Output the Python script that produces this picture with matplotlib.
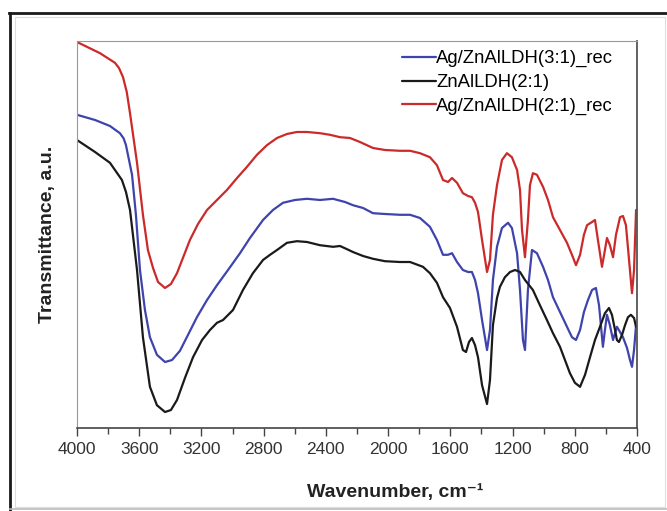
import numpy as np
import matplotlib.pyplot as plt
from matplotlib.lines import Line2D
from matplotlib.patches import Rectangle

plt.rcParams['font.family'] = ['Liberation Sans', 'DejaVu Sans']

# wavenumber (cm-1) and transmittance (a.u.)
wn_red = [4000, 3852, 3756, 3730, 3704, 3680, 3659, 3614, 3576, 3544, 3511, 3479, 3434, 3396,
          3357, 3319, 3274, 3222, 3164, 3100, 3036, 2971, 2907, 2843, 2779, 2714, 2650, 2586,
          2521, 2438, 2374, 2309, 2245, 2181, 2097, 2020, 1924, 1859, 1795, 1731, 1686, 1647,
          1615, 1589, 1557, 1519, 1486, 1461, 1441, 1422, 1396, 1364, 1345, 1326, 1300, 1268,
          1236, 1204, 1171, 1152, 1139, 1120, 1101, 1088, 1069, 1043, 1004, 972, 940, 895, 850,
          818, 792, 766, 741, 721, 689, 670, 651, 625, 606, 593, 574, 554, 535, 509, 490, 471,
          451, 432, 419, 406]
t_red = [97.0, 94.2, 91.8, 90.5, 88.2, 84.5, 79.2, 66.8, 53.8, 45.0, 40.5, 37.0, 35.5, 36.5,
         39.2, 43.0, 47.5, 51.5, 55.0, 57.5, 60.0, 63.0, 65.8, 68.8, 71.2, 73.0, 74.0, 74.5,
         74.5, 74.2, 73.8, 73.2, 73.0, 72.0, 70.5, 70.0, 69.8, 69.8, 69.2, 68.2, 66.2, 62.5,
         62.0, 63.0, 61.8, 59.2, 58.5, 58.2, 56.8, 54.5, 47.5, 39.5, 42.5, 53.8, 61.2, 67.5,
         69.2, 68.2, 65.0, 60.0, 50.0, 43.2, 52.5, 61.2, 64.2, 63.8, 60.8, 57.5, 53.2, 50.0, 46.8,
         43.8, 41.2, 43.8, 48.8, 51.2, 52.0, 52.5, 47.5, 40.8, 45.0, 48.0, 46.2, 43.2, 48.8, 53.2,
         53.5, 51.2, 42.5, 34.2, 40.0, 55.0]

wn_blue = [4000, 3884, 3788, 3724, 3700, 3685, 3646, 3621, 3595, 3563, 3531, 3486, 3434, 3389,
           3338, 3286, 3229, 3164, 3100, 3029, 2952, 2888, 2804, 2740, 2676, 2599, 2521, 2438,
           2354, 2277, 2226, 2161, 2097, 2020, 1924, 1859, 1795, 1731, 1686, 1647, 1615, 1589,
           1557, 1519, 1486, 1461, 1441, 1422, 1396, 1364, 1345, 1326, 1300, 1268, 1229, 1204,
           1171, 1152, 1133, 1120, 1101, 1075, 1043, 1004, 972, 940, 895, 850, 818, 792, 766, 741,
           715, 689, 664, 644, 619, 606, 593, 574, 554, 529, 509, 490, 464, 445, 432, 419, 406]
t_blue = [78.8, 77.5, 76.0, 74.2, 72.9, 71.2, 63.8, 53.8, 40.0, 30.0, 23.2, 18.8, 17.0, 17.5,
          19.8, 23.8, 28.2, 32.5, 36.2, 40.0, 44.2, 48.0, 52.5, 55.0, 56.8, 57.5, 57.8, 57.5,
          57.8, 57.0, 56.2, 55.5, 54.2, 54.0, 53.8, 53.8, 53.0, 50.8, 47.5, 43.8, 43.8, 44.2,
          42.0, 40.0, 39.5, 39.5, 37.5, 34.2, 27.5, 20.0, 25.0, 37.5, 45.8, 50.5, 51.8, 50.5,
          44.2, 35.0, 22.5, 20.0, 35.0, 45.0, 44.2, 40.8, 37.5, 33.2, 29.5, 25.8, 23.2, 22.5,
          25.0, 29.5, 32.5, 35.0, 35.5, 31.2, 20.8, 25.0, 28.8, 26.2, 22.5, 25.8, 24.5, 23.2,
          20.5, 17.5, 15.8, 20.0, 26.2]

wn_black = [4000, 3884, 3788, 3711, 3685, 3659, 3614, 3576, 3531, 3486, 3434, 3396, 3357, 3306,
            3254, 3196, 3145, 3100, 3061, 2997, 2933, 2869, 2804, 2759, 2714, 2650, 2586, 2521,
            2438, 2354, 2309, 2264, 2226, 2161, 2097, 2020, 1924, 1859, 1776, 1731, 1686, 1647,
            1602, 1557, 1519, 1499, 1480, 1461, 1441, 1422, 1396, 1364, 1345, 1326, 1300, 1281,
            1249, 1216, 1184, 1152, 1120, 1069, 1024, 979, 940, 895, 863, 831, 799, 766, 734, 702,
            670, 638, 606, 580, 561, 541, 529, 516, 496, 477, 458, 439, 419, 406]
t_black = [72.5, 69.5, 66.8, 62.5, 59.5, 55.0, 40.0, 23.2, 10.8, 6.2, 4.5, 5.0, 7.5, 13.0,
           18.2, 22.5, 25.0, 26.8, 27.5, 30.0, 35.0, 39.2, 42.5, 43.8, 45.0, 46.8, 47.2, 47.0,
           46.2, 45.8, 46.0, 45.2, 44.5, 43.5, 42.8, 42.2, 42.0, 42.0, 40.8, 39.2, 36.8, 33.2,
           30.5, 25.8, 20.0, 19.5, 22.0, 23.0, 21.2, 18.2, 11.2, 6.5, 12.5, 26.2, 33.0, 35.8,
           38.2, 39.5, 40.0, 39.5, 37.5, 35.0, 31.2, 27.5, 24.2, 20.8, 17.5, 14.2, 11.8, 10.8,
           13.8, 18.2, 22.5, 25.8, 29.2, 30.5, 28.8, 25.0, 22.5, 22.0, 23.8, 26.2, 28.2, 28.8,
           28.0, 25.8]

labels = ['Ag/ZnAlLDH(3:1)_rec', 'ZnAlLDH(2:1)', 'Ag/ZnAlLDH(2:1)_rec']
colors = ['#3f44ad', '#1a1a1a', '#cc2a2a']

fig = plt.figure(figsize=(6.67, 5.11), dpi=100)
ax = fig.add_axes([0.1154, 0.1624, 0.8396, 0.7574])

kw = dict(lw=1.6, solid_joinstyle='round', solid_capstyle='round')
ax.plot(wn_blue, t_blue, color=colors[0], label=labels[0], **kw)
ax.plot(wn_black, t_black, color=colors[1], label=labels[1], **kw)
ax.plot(wn_red, t_red, color=colors[2], label=labels[2], **kw)

ax.set_xlim(4000, 400)
ax.set_ylim(0.5, 97.25)
ax.set_xticks(np.arange(4000, 399, -400))
ax.set_xticks(np.arange(3800, 400, -400), minor=True)
ax.set_yticks([])
ax.tick_params(axis='x', which='major', length=6, width=1, color='#444',
               labelsize=12.5, labelcolor='#333', pad=4)
ax.tick_params(axis='x', which='minor', length=4, width=1, color='#444')

for s in ['left', 'top']:
    ax.spines[s].set_color('#999')
ax.spines['right'].set_color('#555')
ax.spines['right'].set_linewidth(1.3)
ax.spines['bottom'].set_color('#444')
ax.spines['bottom'].set_linewidth(1.2)

ax.set_ylabel('Transmittance, a.u.', fontsize=14, fontweight='bold', color='#222', labelpad=15)
fig.text(0.592, 0.037, 'Wavenumber, cm⁻¹', fontsize=14, fontweight='bold', color='#222',
         ha='center', va='center')

ax.legend(loc='upper right', bbox_to_anchor=(0.974, 1.0), frameon=False, fontsize=13.3,
          handlelength=1.85, handletextpad=0.0, labelspacing=0.36, borderaxespad=0.1)

# page frame: dark top/left edge, faint inner frame, light bottom edge
fig.add_artist(Line2D([9 / 667, 1], [1 - 13 / 511] * 2, transform=fig.transFigure,
                      color='#1a1a1a', lw=2))
fig.add_artist(Line2D([10 / 667] * 2, [0, 1 - 13 / 511], transform=fig.transFigure,
                      color='#1a1a1a', lw=2))
fig.add_artist(Line2D([10 / 667, 1], [1 - 509 / 511] * 2, transform=fig.transFigure,
                      color='#bbb', lw=1.2))
fig.patches.append(Rectangle((15 / 667, 1 - 507 / 511), 650 / 667, 490 / 511,
                             transform=fig.transFigure, fill=False, lw=0.8, ec='#ddd'))

fig.savefig('out.png', dpi=100)
